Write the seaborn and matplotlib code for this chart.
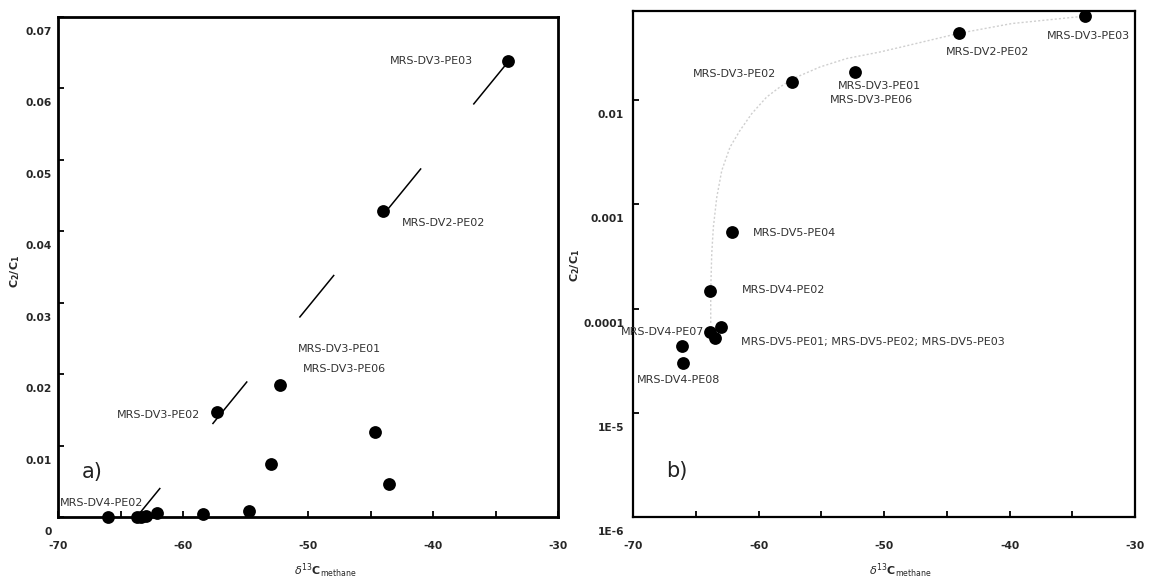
import matplotlib
matplotlib.use("Agg")
import matplotlib.pyplot as plt
import matplotlib.transforms as mtransforms
import numpy as np
import pandas as pd
import seaborn as sns

# panel a) linear C2/C1 vs d13C methane
a_x = [-66.0, -63.7, -63.35, -63.0, -62.05, -58.4, -54.75, -53.0,
       -52.25, -57.25, -44.65, -43.55, -44.0, -34.0]
a_y = [0.00003, 0.00006, 0.00005, 0.00007, 0.0005, 0.0004, 0.0008, 0.0074,
       0.0185, 0.0147, 0.0119, 0.0046, 0.0428, 0.0638]
a_trend_x = [-64.6, -34.0]
a_trend_y = [-0.0019, 0.0637]
a_labels = ["MRS-DV3-PE03", "MRS-DV2-PE02", "MRS-DV3-PE01", "MRS-DV3-PE06",
            "MRS-DV3-PE02", "MRS-DV4-PE02"]
a_label_x = [-36.8, -42.5, -50.8, -50.4, -58.6, -69.85]
a_label_y = [0.0638, 0.0412, 0.0235, 0.0207, 0.0143, 0.00196]
a_label_ha = ["right", "left", "left", "left", "right", "left"]

# panel b) log C2/C1 vs d13C methane
b_x = [-34.0, -44.0, -52.3, -57.3, -62.15, -63.85, -63.0, -63.85, -63.5,
       -66.1, -66.0]
b_y = [0.0643, 0.0438, 0.0189, 0.0150, 0.00054, 0.000147, 6.6e-5, 6.0e-5,
       5.2e-5, 4.4e-5, 3.0e-5]
b_curve_x = [-63.81, -63.81, -63.73, -63.6, -63.33, -62.93, -62.27, -61.47,
             -60.54, -59.35, -58.29, -57.23, -55.1, -52.97, -50.32, -48.61,
             -44.02, -39.8, -33.98]
b_curve_y = [7.3e-5, 1.49e-4, 3.36e-4, 6.05e-4, 1.17e-3, 2.12e-3, 3.56e-3,
             5.15e-3, 7.45e-3, 0.01076, 0.01343, 0.01618, 0.0209, 0.0252,
             0.0291, 0.0325, 0.044, 0.0546, 0.0643]
b_labels = ["MRS-DV3-PE03", "MRS-DV2-PE02", "MRS-DV3-PE01", "MRS-DV3-PE06",
            "MRS-DV3-PE02", "MRS-DV5-PE04", "MRS-DV4-PE02", "MRS-DV4-PE07",
            "MRS-DV5-PE01; MRS-DV5-PE02; MRS-DV5-PE03", "MRS-DV4-PE08"]
b_label_x = [-37.0, -45.05, -53.7, -54.35, -58.6, -60.45, -61.35, -64.3,
             -61.37, -69.7]
b_label_y = [0.0412, 0.029, 0.01364, 0.0100, 0.01778, 0.000538, 0.000152,
             6.0e-5, 4.74e-5, 2.07e-5]
b_label_ha = ["left", "left", "left", "left", "right", "left", "left",
              "right", "left", "left"]

x_ticks = [-70, -65, -60, -55, -50, -45, -40, -35, -30]
x_tick_labels = ["-70", "", "-60", "", "-50", "", "-40", "", "-30"]
a_y_ticks = [0, 0.01, 0.02, 0.03, 0.04, 0.05, 0.06, 0.07]
a_y_tick_labels = ["0", "0.01", "0.02", "0.03", "0.04", "0.05", "0.06", "0.07"]
b_y_ticks = [1e-6, 1e-5, 1e-4, 1e-3, 1e-2]
b_y_tick_labels = ["1E-6", "1E-5", "0.0001", "0.001", "0.01"]

sns.set_style("white", {"xtick.direction": "in", "ytick.direction": "in"})
plt.rcParams["font.family"] = ["DejaVu Sans"]

fig = plt.figure(figsize=(11.51, 5.79), dpi=100)
ax_a = fig.add_axes([0.0504, 0.1071, 0.4344, 0.8636])
ax_b = fig.add_axes([0.5500, 0.1071, 0.4361, 0.8739])

xlabel = r"$\delta^{13}\mathbf{C}_{\mathrm{methane}}$"
ylabel = r"$\mathbf{C_2/C_1}$"
label_font = dict(fontsize=8, color="#333333", va="center")
shift_down = mtransforms.ScaledTranslation(0, -14 / 100, fig.dpi_scale_trans)


def style_axis(ax, spine_w, ypad):
    for s in ax.spines.values():
        s.set_linewidth(spine_w)
        s.set_color("black")
        s.set_visible(True)
    ax.set_xlim(-70, -30)
    ax.set_xticks(x_ticks)
    ax.set_xticklabels(x_tick_labels, fontweight="bold", fontsize=7.7)
    ax.tick_params(axis="both", which="major", direction="in", length=4,
                   width=1.3, color="black", bottom=True, left=True)
    ax.tick_params(axis="x", pad=17)
    ax.tick_params(axis="y", pad=ypad)
    ax.tick_params(axis="y", which="minor", left=False, right=False)


# ---- panel a
sns.lineplot(x=a_trend_x, y=a_trend_y, ax=ax_a, color="black", linewidth=1.1,
             linestyle=(0, (36, 54)), sort=False, estimator=None)
sns.scatterplot(x=a_x, y=a_y, ax=ax_a, color="black", s=85, linewidth=0,
                clip_on=False, zorder=3)
style_axis(ax_a, 2.0, 4.5)
ax_a.set_ylim(0, 0.07)
ax_a.set_yticks(a_y_ticks)
ax_a.set_yticklabels(a_y_tick_labels, fontweight="bold", fontsize=7.7)
for lab, x, y, ha in zip(a_labels, a_label_x, a_label_y, a_label_ha):
    ax_a.text(x, y, lab, ha=ha, **label_font)
ax_a.text(-68.1, 0.0063, "a)", fontsize=15, va="center", ha="left",
          color="#222222")
ax_a.set_xlabel(xlabel, fontsize=8)
ax_a.xaxis.set_label_coords(0.534, -0.09)
ax_a.set_ylabel(ylabel, fontsize=8)
ax_a.yaxis.set_label_coords(-0.072, 0.492)

# ---- panel b
ax_b.set_yscale("log")
sns.lineplot(x=b_curve_x, y=b_curve_y, ax=ax_b, color="#cfcfcf",
             linewidth=1.0, linestyle=(0, (1.5, 1.5)), sort=False,
             estimator=None)
sns.scatterplot(x=b_x, y=b_y, ax=ax_b, color="black", s=85, linewidth=0,
                clip_on=False, zorder=3)
style_axis(ax_b, 1.6, 6.5)
ax_b.set_ylim(1e-6, 0.072)
ax_b.set_yticks(b_y_ticks)
ax_b.set_yticklabels(b_y_tick_labels, fontweight="bold", fontsize=7.7)
ax_b.yaxis.set_minor_locator(matplotlib.ticker.NullLocator())
for lab, x, y, ha in zip(b_labels, b_label_x, b_label_y, b_label_ha):
    ax_b.text(x, y, lab, ha=ha, clip_on=False, **label_font)
ax_b.text(-67.4, 2.77e-6, "b)", fontsize=15, va="center", ha="left",
          color="#222222")
ax_b.set_xlabel(xlabel, fontsize=8)
ax_b.xaxis.set_label_coords(0.532, -0.088)
ax_b.set_ylabel(ylabel, fontsize=8)
ax_b.yaxis.set_label_coords(-0.1016, 0.498)

# y tick labels in the original sit a little below their ticks
for ax in (ax_a, ax_b):
    for t in ax.get_yticklabels():
        t.set_transform(t.get_transform() + shift_down)

fig.savefig("out.png", dpi=100)
